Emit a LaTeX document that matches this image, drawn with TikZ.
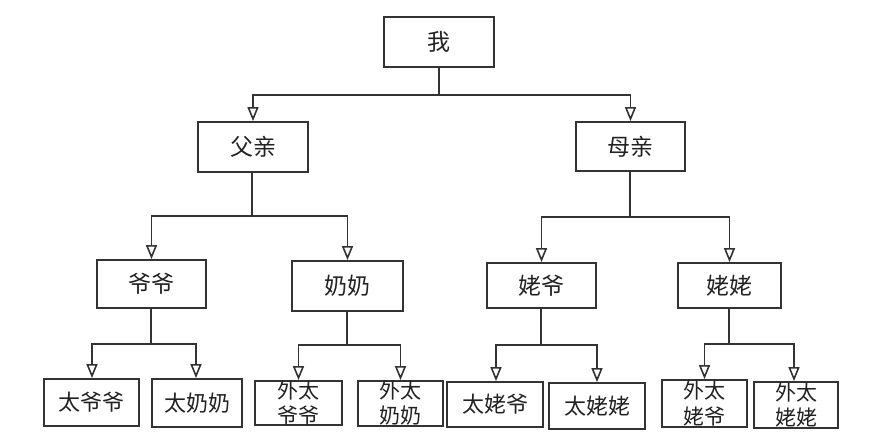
\documentclass[tikz,border=0pt]{standalone}
\usepackage{fontspec}
\setmainfont{Noto Sans CJK SC}
\usetikzlibrary{arrows.meta}
\definecolor{ln}{HTML}{333333}
\definecolor{tx}{HTML}{222222}
\tikzset{
  box/.style={draw=ln, line width=1.8pt, fill=white, inner sep=0pt, text=tx, font=\fontsize{23}{25}\selectfont},
  smallbox/.style={box, font=\fontsize{22}{25}\selectfont},
  twoline/.style={inner sep=0pt, text=tx, align=center, font=\fontsize{21}{25}\selectfont},
  conn/.style={draw=ln, line width=1.8pt},
  arr/.style={conn, -{Triangle[open, length=14pt, width=11pt, fill=white, line width=1.6pt]}},
}
\begin{document}
\begin{tikzpicture}[x=1pt, y=-1pt]
\useasboundingbox[fill=white] (0,0) rectangle (886,440);
% level 0
\node[box, minimum width=110, minimum height=50] (me) at (439,42) {我};
% level 1
\node[box, minimum width=110, minimum height=50] (fa) at (253,147) {父亲};
\node[box, minimum width=109, minimum height=49] (mo) at (630.5,146.5) {母亲};
% level 2
\node[box, minimum width=109, minimum height=48] (gf) at (151.5,284) {爷爷};
\node[box, minimum width=111, minimum height=50] (gm) at (347.5,286) {奶奶};
\node[box, minimum width=109, minimum height=45] (mgf) at (541.5,285.5) {姥爷};
\node[box, minimum width=103, minimum height=45] (mgm) at (729.5,285.5) {姥姥};
% level 3
\node[smallbox, minimum width=95, minimum height=47] (a1) at (91.5,402.5) {太爷爷};
\node[smallbox, minimum width=90, minimum height=48] (a2) at (197,403) {太奶奶};
\node[smallbox, minimum width=87, minimum height=44] (a3) at (298.5,403) {};
\node[twoline] (a3t) at (a3.center) {外太\\爷爷};
\node[smallbox, minimum width=85, minimum height=45] (a4) at (400.5,403.5) {};
\node[twoline] (a4t) at (a4.center) {外太\\奶奶};
\node[smallbox, minimum width=96, minimum height=45] (a5) at (495,404.5) {太姥爷};
\node[smallbox, minimum width=96, minimum height=46] (a6) at (597,406) {太姥姥};
\node[smallbox, minimum width=85, minimum height=47] (a7) at (704.5,403.5) {};
\node[twoline] (a7t) at (a7.center) {外太\\姥爷};
\node[smallbox, minimum width=84, minimum height=46] (a8) at (796,405) {};
\node[twoline] (a8t) at (a8.center) {外太\\姥姥};
% junctions
\coordinate (j0) at (439,95);
\coordinate (j1) at (252,216);
\coordinate (j2) at (630,217);
\coordinate (j3) at (151,344);
\coordinate (j4) at (347,345);
\coordinate (j5) at (541,345);
\coordinate (j6) at (729,344);
% connectors
\draw[conn] (me.south) -- (j0);
\draw[arr] (j0) -| (fa.north);
\draw[arr] (j0) -| (mo.north);
\draw[conn] (fa.south -| j1) -- (j1);
\draw[arr] (j1) -| (gf.north);
\draw[arr] (j1) -| (gm.north);
\draw[conn] (mo.south -| j2) -- (j2);
\draw[arr] (j2) -| (mgf.north);
\draw[arr] (j2) -| (mgm.north);
\draw[conn] (gf.south -| j3) -- (j3);
\draw[arr] (j3) -| ([xshift=0.5pt]a1.north);
\draw[arr] (j3) -| ([xshift=-1pt]a2.north);
\draw[conn] (gm.south -| j4) -- (j4);
\draw[arr] (j4) -| (a3.north);
\draw[arr] (j4) -| (a4.north);
\draw[conn] (mgf.south -| j5) -- (j5);
\draw[arr] (j5) -| ([xshift=1pt]a5.north);
\draw[arr] (j5) -| (a6.north);
\draw[conn] (mgm.south -| j6) -- (j6);
\draw[arr] (j6) -| (a7.north);
\draw[arr] (j6) -| ([xshift=-2pt]a8.north);
\end{tikzpicture}
\end{document}
